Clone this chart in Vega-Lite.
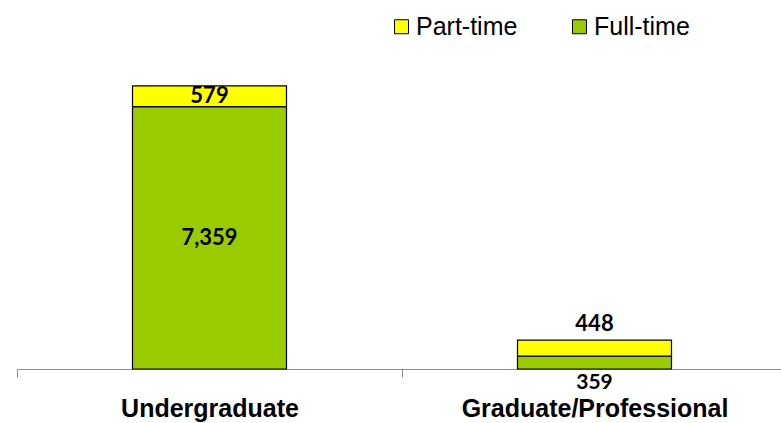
{
  "$schema": "https://vega.github.io/schema/vega-lite/v6.json",
  "width": 764,
  "height": 321,
  "autosize": {"type": "none"},
  "padding": {"left": 17, "top": 48, "right": 0, "bottom": 54},
  "background": "white",
  "config": {"view": {"stroke": null}},
  "data": {
    "values": [
      {"level": "Undergraduate", "series": "Full-time", "value": 7359},
      {"level": "Undergraduate", "series": "Part-time", "value": 579},
      {"level": "Graduate/Professional", "series": "Full-time", "value": 359},
      {"level": "Graduate/Professional", "series": "Part-time", "value": 448}
    ]
  },
  "transform": [
    {"stack": "value", "groupby": ["level"], "sort": [{"field": "series", "order": "ascending"}], "as": ["v0", "v1"]},
    {"calculate": "(datum.v0 + datum.v1) / 2", "as": "mid"}
  ],
  "encoding": {
    "x": {
      "field": "level",
      "type": "nominal",
      "sort": ["Undergraduate", "Graduate/Professional"],
      "scale": {"range": [0, 770], "paddingInner": 0, "paddingOuter": 0},
      "axis": {
        "title": null,
        "labelAngle": 0,
        "labelLimit": 0,
        "labelFont": "Liberation Sans",
        "labelFontWeight": "bold",
        "labelFontSize": 25,
        "labelColor": "black",
        "domainColor": "#8c8c8c",
        "tickColor": "#8c8c8c",
        "tickSize": 8,
        "tickBand": "extent",
        "labelPadding": 19,
        "grid": false
      }
    }
  },
  "layer": [
    {
      "mark": {"type": "bar", "width": 154, "stroke": "black", "strokeWidth": 1.2},
      "encoding": {
        "y": {"field": "v0", "type": "quantitative", "scale": {"domain": [0, 9000]}, "axis": null},
        "y2": {"field": "v1"},
        "color": {
          "field": "series",
          "type": "nominal",
          "scale": {"domain": ["Part-time", "Full-time"], "range": ["#FFFF00", "#99CC00"]},
          "legend": {
            "orient": "none",
            "legendX": 372,
            "legendY": -34,
            "direction": "horizontal",
            "title": null,
            "symbolType": "square",
            "symbolSize": 196,
            "symbolStrokeColor": "black",
            "symbolStrokeWidth": 1,
            "labelFont": "Liberation Sans",
            "labelFontSize": 25,
            "labelColor": "black",
            "labelOffset": 2,
            "columnPadding": 49,
            "padding": 0
          }
        }
      }
    },
    {
      "transform": [{"filter": "datum.level == 'Undergraduate'"}],
      "mark": {"type": "text", "font": "Lato", "fontWeight": "bold", "fontSize": 22, "baseline": "middle", "color": "black"},
      "encoding": {
        "y": {"field": "mid", "type": "quantitative", "scale": {"domain": [0, 9000]}},
        "text": {"field": "value", "type": "quantitative", "format": ",d"}
      }
    },
    {
      "transform": [{"filter": "datum.level == 'Graduate/Professional' && datum.series == 'Part-time'"}],
      "mark": {"type": "text", "font": "Lato", "fontWeight": "bold", "fontSize": 22, "baseline": "middle", "dy": -16, "color": "black"},
      "encoding": {
        "y": {"field": "v1", "type": "quantitative", "scale": {"domain": [0, 9000]}},
        "text": {"field": "value", "type": "quantitative", "format": ",d"}
      }
    },
    {
      "transform": [{"filter": "datum.level == 'Graduate/Professional' && datum.series == 'Full-time'"}],
      "mark": {"type": "text", "font": "Lato", "fontWeight": "bold", "fontSize": 21, "baseline": "middle", "dy": 14, "color": "black"},
      "encoding": {
        "y": {"field": "v0", "type": "quantitative", "scale": {"domain": [0, 9000]}},
        "text": {"field": "value", "type": "quantitative", "format": ",d"}
      }
    }
  ]
}
